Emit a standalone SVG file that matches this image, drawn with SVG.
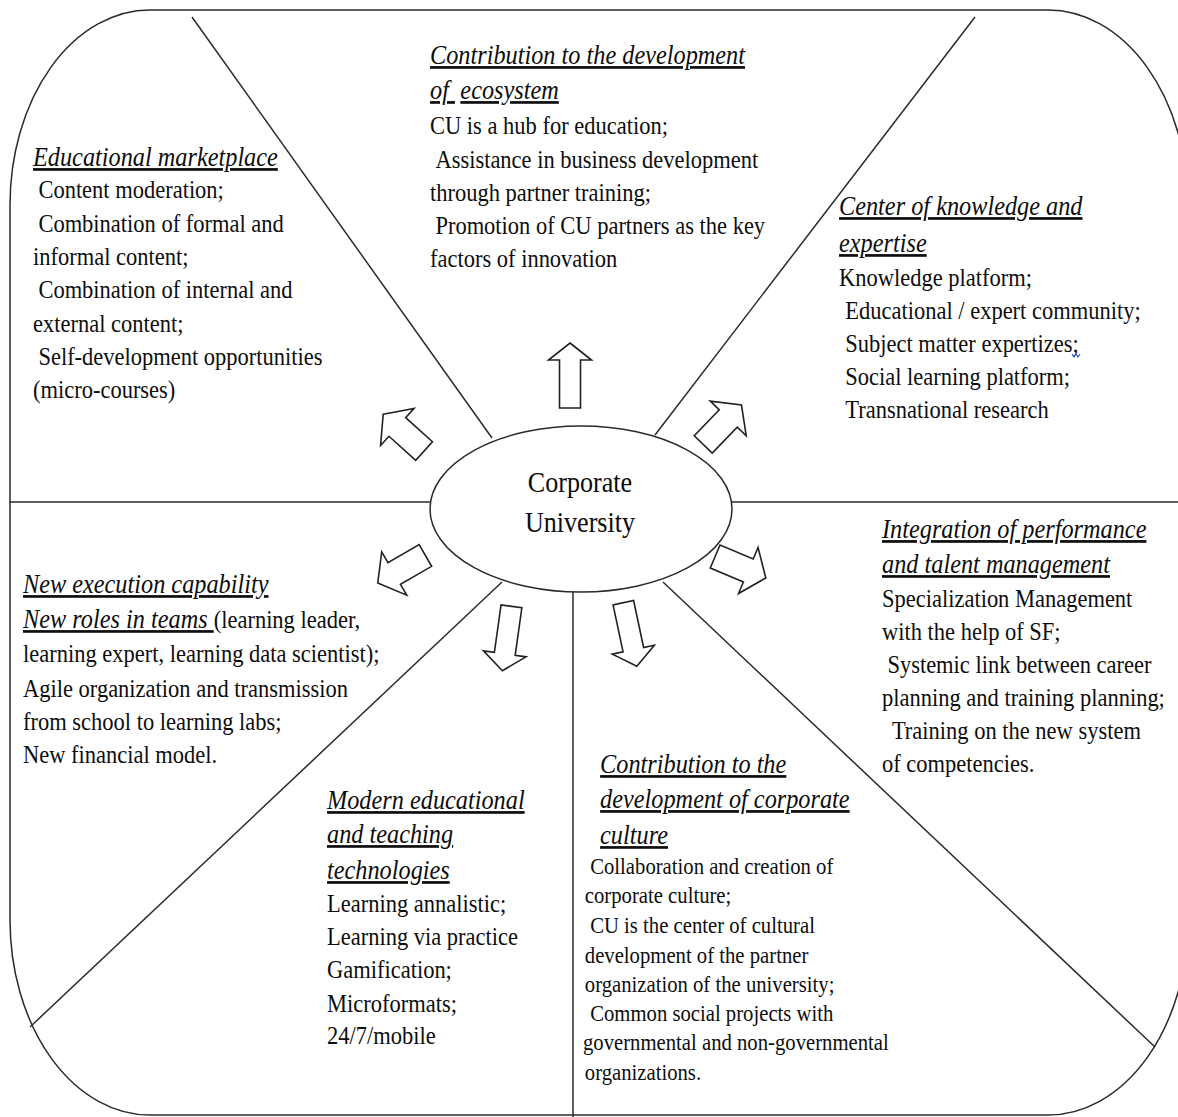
<svg xmlns="http://www.w3.org/2000/svg" width="1178" height="1117" viewBox="0 0 1178 1117">
<style>
  text { font-family: "Liberation Serif", "Times New Roman", serif; fill: #0d0d0d; }
  .b { font-size: 25px; }
  .s { font-size: 23px; }
  .h { font-size: 27px; font-style: italic; text-decoration: underline; }
  .c { font-size: 29px; text-anchor: middle; }
  .ln { stroke: #2a2a2a; stroke-width: 1.5; fill: none; }
  .ar { stroke: #222; stroke-width: 1.6; fill: #fff; stroke-linejoin: miter; }
</style>
<defs>
  <path id="arrL" d="M0,-33 L21.5,-16 L10.5,-16 L10.5,32 L-10.5,32 L-10.5,-16 L-21.5,-16 Z"/>
  <path id="arrS" d="M0,-28 L25,-9 L12.5,-9 L12.5,27 L-12.5,27 L-12.5,-9 L-25,-9 Z"/>
</defs>
<rect width="1178" height="1117" fill="#fff"/>

<g id="frame">
  <rect class="ln" x="10" y="10" width="1178" height="1105" rx="140" ry="195"/>
</g>

<g id="dividers">
  <line class="ln" x1="192" y1="17" x2="492" y2="438"/>
  <line class="ln" x1="975" y1="17" x2="655" y2="435"/>
  <line class="ln" x1="10" y1="502" x2="430" y2="502" stroke-width="2"/>
  <line class="ln" x1="732" y1="502" x2="1178" y2="502" stroke-width="2"/>
  <line class="ln" x1="502" y1="582" x2="30" y2="1027"/>
  <line class="ln" x1="573" y1="592" x2="573" y2="1117"/>
  <line class="ln" x1="663" y1="582" x2="1155" y2="1047"/>
</g>

<g id="connectors">
  <use href="#arrL" class="ar" transform="translate(570,376)"/>
  <use href="#arrS" class="ar" transform="translate(404,433) rotate(-48)"/>
  <use href="#arrS" class="ar" transform="translate(722,425) rotate(44)"/>
  <use href="#arrS" class="ar" transform="translate(402,569) rotate(-120)"/>
  <use href="#arrS" class="ar" transform="translate(740,567) rotate(113)"/>
  <use href="#arrL" class="ar" transform="translate(507,638) rotate(188)"/>
  <use href="#arrL" class="ar" transform="translate(630,634) rotate(168)"/>
</g>

<g id="center">
  <ellipse class="ln" cx="581" cy="509" rx="151" ry="83" fill="#fff"/>
  <g transform="translate(580,0) scale(0.9,1)">
    <text class="c" x="0" y="492">Corporate</text>
    <text class="c" x="0" y="532">University</text>
  </g>
</g>

<g id="node-marketplace" transform="translate(33,0) scale(0.9,1)">
  <text class="h" x="0" y="166">Educational marketplace</text>
  <text class="b" x="6" y="198">Content moderation;</text>
  <text class="b" x="6" y="232">Combination of formal and</text>
  <text class="b" x="0" y="265">informal content;</text>
  <text class="b" x="6" y="298">Combination of internal and</text>
  <text class="b" x="0" y="332">external content;</text>
  <text class="b" x="6" y="365">Self-development opportunities</text>
  <text class="b" x="0" y="398">(micro-courses)</text>
</g>

<g id="node-ecosystem" transform="translate(430,0) scale(0.9,1)">
  <text class="h" x="0" y="64">Contribution to the development</text>
  <text class="h" x="0" y="99">of <tspan dx="6">ecosystem</tspan></text>
  <text class="b" x="0" y="134">CU is a hub for education;</text>
  <text class="b" x="6" y="168">Assistance in business development</text>
  <text class="b" x="0" y="201">through partner training;</text>
  <text class="b" x="6" y="234">Promotion of CU partners as the key</text>
  <text class="b" x="0" y="267">factors of innovation</text>
</g>

<g id="node-knowledge" transform="translate(839,0) scale(0.9,1)">
  <text class="h" x="0" y="215">Center of knowledge and</text>
  <text class="h" x="0" y="252">expertise</text>
  <text class="b" x="0" y="286">Knowledge platform;</text>
  <text class="b" x="7" y="319">Educational / expert community;</text>
  <text class="b" x="7" y="352">Subject matter expertizes;</text>
  <text class="b" x="7" y="385">Social learning platform;</text>
  <text class="b" x="7" y="418">Transnational research</text>
</g>
<path d="M1072,354 l2,3 l2,-3 l2,3 l2,-3" fill="none" stroke="#3050c0" stroke-width="1.2"/>

<g id="node-talent" transform="translate(882,0) scale(0.9,1)">
  <text class="h" x="0" y="538">Integration of performance</text>
  <text class="h" x="0" y="573">and talent management</text>
  <text class="b" x="0" y="607">Specialization Management</text>
  <text class="b" x="0" y="640">with the help of SF;</text>
  <text class="b" x="6" y="673">Systemic link between career</text>
  <text class="b" x="0" y="706">planning and training planning;</text>
  <text class="b" x="11" y="739">Training on the new system</text>
  <text class="b" x="0" y="772">of competencies.</text>
</g>

<g id="node-execution" transform="translate(23,0) scale(0.9,1)">
  <text class="h" x="0" y="593">New execution capability</text>
  <text class="b" x="0" y="628"><tspan class="h">New roles in teams </tspan>(learning leader,</text>
  <text class="b" x="0" y="662">learning expert, learning data scientist);</text>
  <text class="b" x="0" y="697">Agile organization and transmission</text>
  <text class="b" x="0" y="730">from school to learning labs;</text>
  <text class="b" x="0" y="763">New financial model.</text>
</g>

<g id="node-technologies" transform="translate(327,0) scale(0.9,1)">
  <text class="h" x="0" y="809">Modern educational</text>
  <text class="h" x="0" y="843">and teaching</text>
  <text class="h" x="0" y="879">technologies</text>
  <text class="b" x="0" y="912">Learning annalistic;</text>
  <text class="b" x="0" y="945">Learning via practice</text>
  <text class="b" x="0" y="978">Gamification;</text>
  <text class="b" x="0" y="1012">Microformats;</text>
  <text class="b" x="0" y="1044">24/7/mobile</text>
</g>

<g id="node-culture" transform="translate(583,0) scale(0.9,1)">
  <text class="h" x="19" y="773">Contribution to the</text>
  <text class="h" x="19" y="808">development of corporate</text>
  <text class="h" x="19" y="844">culture</text>
  <text class="s" x="8" y="874">Collaboration and creation of</text>
  <text class="s" x="2" y="903">corporate culture;</text>
  <text class="s" x="8" y="933">CU is the center of cultural</text>
  <text class="s" x="2" y="963">development of the partner</text>
  <text class="s" x="2" y="992">organization of the university;</text>
  <text class="s" x="8" y="1021">Common social projects with</text>
  <text class="s" x="0" y="1050">governmental and non-governmental</text>
  <text class="s" x="2" y="1080">organizations.</text>
</g>
</svg>
